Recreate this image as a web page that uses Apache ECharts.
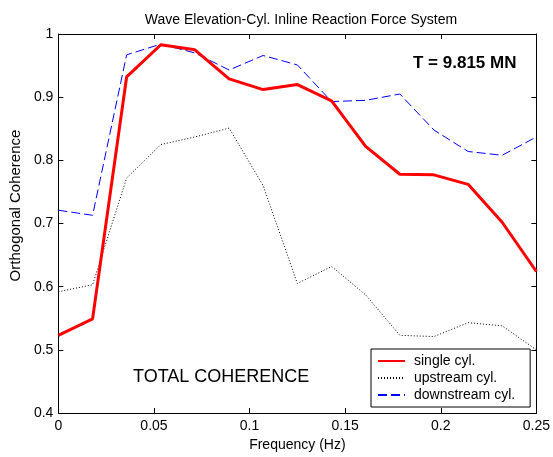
<!DOCTYPE html>
<html>
<head>
<meta charset="utf-8">
<script src="https://cdn.jsdelivr.net/npm/echarts@6/dist/echarts.min.js"></script>
<style>
html,body{margin:0;padding:0;background:#fff;}
#chart{width:553px;height:457px;}
</style>
</head>
<body>
<div id="chart"></div>
<script>
var frequency = [0, 0.0179, 0.0357, 0.0536, 0.0714, 0.0893, 0.1071, 0.125, 0.1429, 0.1607, 0.1786, 0.1964, 0.2143, 0.2321, 0.25];
var singleCyl = [0.523, 0.549, 0.932, 0.983, 0.975, 0.929, 0.912, 0.920, 0.894, 0.822, 0.778, 0.777, 0.762, 0.702, 0.624];
var upstreamCyl = [0.592, 0.603, 0.772, 0.825, 0.837, 0.851, 0.760, 0.605, 0.632, 0.587, 0.523, 0.521, 0.543, 0.538, 0.500];
var downstreamCyl = [0.721, 0.713, 0.967, 0.984, 0.970, 0.943, 0.966, 0.951, 0.893, 0.895, 0.905, 0.848, 0.814, 0.808, 0.837];
var seriesNames = ['single cyl.', 'upstream cyl.', 'downstream cyl.'];
var titleText = 'Wave Elevation-Cyl. Inline Reaction Force System';
var xName = 'Frequency (Hz)';
var yName = 'Orthogonal Coherence';
var noteT = 'T = 9.815 MN';
var noteTotal = 'TOTAL COHERENCE';

function pairs(ys){ return frequency.map(function(x,i){ return [x, ys[i]]; }); }

var FONT = 'Liberation Sans, Arial, sans-serif';
var chart = echarts.init(document.getElementById('chart'), null, {renderer:'canvas'});

function axisCommon(){
  return {
    axisLine:{show:true, onZero:false, lineStyle:{color:'#000', width:1}},
    axisTick:{show:true, inside:true, length:5, lineStyle:{color:'#000'}},
    splitLine:{show:false}
  };
}

var xBottom = Object.assign(axisCommon(), {
  type:'value', min:0, max:0.25, interval:0.05, position:'bottom',
  axisLabel:{color:'#000', fontSize:14, fontFamily:FONT, margin:6},
  name:xName, nameLocation:'middle', nameGap:25,
  nameTextStyle:{color:'#000', fontSize:14, fontFamily:FONT}
});
var xTop = Object.assign(axisCommon(), {
  type:'value', min:0, max:0.25, interval:0.05, position:'top',
  axisLabel:{show:false}
});
var yLeft = Object.assign(axisCommon(), {
  type:'value', min:0.4, max:1, interval:0.1, position:'left',
  axisLabel:{color:'#000', fontSize:14, fontFamily:FONT, margin:5},
  name:yName, nameLocation:'middle', nameGap:30,
  nameTextStyle:{color:'#000', fontSize:15, fontFamily:FONT, padding:[0,0,0,36]}
});
var yRight = Object.assign(axisCommon(), {
  type:'value', min:0.4, max:1, interval:0.1, position:'right',
  axisLabel:{show:false}
});

chart.setOption({
  animation:false,
  backgroundColor:'#fff',
  textStyle:{fontFamily:FONT},
  title:{
    text:titleText, left:296, top:8, textAlign:'center',
    textStyle:{color:'#000', fontSize:14, fontWeight:'normal', fontFamily:FONT}
  },
  grid:{left:57, right:16, top:34, bottom:44, containLabel:false},
  xAxis:[xBottom, xTop],
  yAxis:[yLeft, yRight],
  legend:{
    orient:'vertical', left:371, top:349,
    data:seriesNames,
    itemWidth:27, itemHeight:14, itemGap:3,
    padding:[5,15,5,6],
    itemStyle:{opacity:0},
    borderColor:'#000', borderWidth:1, backgroundColor:'#fff',
    textStyle:{color:'#000', fontSize:14, fontFamily:FONT, padding:[0,0,0,4]}
  },
  graphic:[
    {type:'text', left:413, top:55, z:10,
     style:{text:noteT, fill:'#000', font:'bold 17px Liberation Sans, Arial, sans-serif'}},
    {type:'text', left:133, top:368, z:10,
     style:{text:noteTotal, fill:'#000', font:'18px Liberation Sans, Arial, sans-serif'}}
  ],
  series:[
    {name:seriesNames[0], type:'line', data:pairs(singleCyl), symbol:'none',
     color:'#ff0000', lineStyle:{color:'#ff0000', width:3, type:'solid'}, z:5},
    {name:seriesNames[1], type:'line', data:pairs(upstreamCyl), symbol:'none',
     color:'#000000', lineStyle:{color:'#000000', width:1, type:[1,2]}, z:3},
    {name:seriesNames[2], type:'line', data:pairs(downstreamCyl), symbol:'none',
     color:'#0000ff', lineStyle:{color:'#0000ff', width:1, type:[9,4]}, z:4}
  ]
});
</script>
</body>
</html>
